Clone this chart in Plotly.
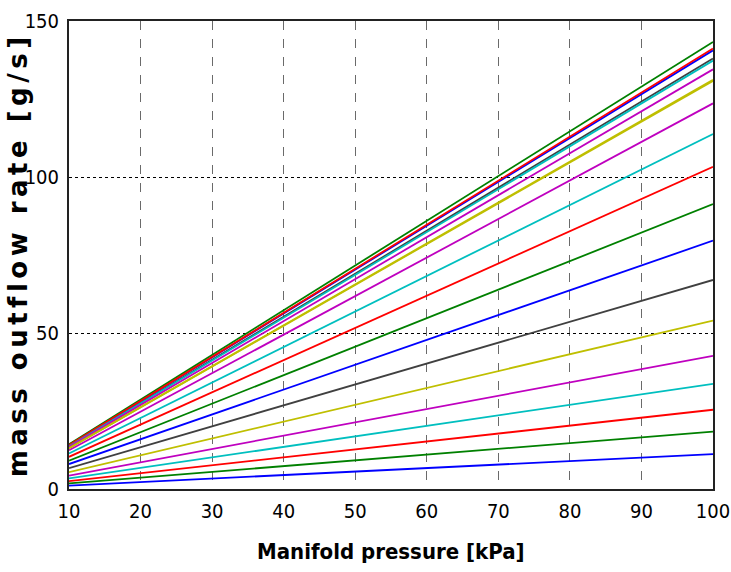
import plotly.graph_objects as go

# Manifold pressure endpoints [kPa]
pressure = [10, 100]

# mass outflow rate [g/s] read at 10 kPa and at 100 kPa for each curve
flow_at_10 = [1.1, 1.8, 2.5, 3.4, 4.3, 5.4, 6.7, 8.0, 9.1, 10.3,
              11.4, 12.4, 13.1, 13.8, 14.1, 14.3, 14.1, 13.7, 13.5, 13.1]
flow_at_100 = [11.2, 18.4, 25.4, 33.7, 42.7, 54.0, 67.0, 79.6, 91.3, 103.3,
               113.8, 123.6, 130.8, 138.0, 140.6, 143.3, 141.2, 137.3, 134.5, 131.2]

# MATLAB classic colour order: b g r c m y k
color_order = ["#0000FF", "#008000", "#FF0000", "#00BFBF", "#BF00BF", "#BFBF00", "#404040"]

x_ticks = [10, 20, 30, 40, 50, 60, 70, 80, 90, 100]
y_ticks = [0, 50, 100, 150]

fig = go.Figure()
for i, (a, b) in enumerate(zip(flow_at_10, flow_at_100)):
    fig.add_trace(go.Scatter(
        x=pressure, y=[a, b], mode="lines",
        line=dict(color=color_order[i % len(color_order)], width=1.8),
        showlegend=False, hoverinfo="skip"))

narrow = "Liberation Sans Narrow, DejaVu Sans Condensed, Arial Narrow, sans-serif"
tick_font = dict(family=narrow, size=20, color="#000000")

fig.update_layout(
    width=731, height=572,
    margin=dict(l=69, r=18, t=21, b=83),
    paper_bgcolor="white", plot_bgcolor="white",
    xaxis=dict(range=[10, 100], tickvals=x_ticks, showgrid=True,
               gridcolor="#6a6a6a", griddash="dash", gridwidth=1,
               showline=True, linecolor="#222222", linewidth=2, mirror=True,
               zeroline=False, ticks="", tickfont=tick_font,
               ticklabeloverflow="allow", automargin=False, ticklabelstandoff=3),
    yaxis=dict(range=[0, 150], tickvals=y_ticks, showgrid=True,
               gridcolor="#000000", griddash="dot", gridwidth=1.3,
               showline=True, linecolor="#222222", linewidth=2, mirror=True,
               zeroline=False, ticks="", tickfont=tick_font,
               ticklabeloverflow="allow", automargin=False, ticklabelstandoff=4),
    annotations=[
        dict(text="Manifold pressure [kPa]", xref="paper", yref="paper",
             x=0.5, y=-0.134, xanchor="center", yanchor="middle", showarrow=False,
             font=dict(family=narrow, size=22, color="#000000", weight="bold")),
        dict(text="mass outflow rate [g/s]", xref="paper", yref="paper",
             x=-0.079, y=0.5, xanchor="center", yanchor="middle", showarrow=False,
             textangle=-90,
             font=dict(family="DejaVu Sans, Verdana, sans-serif", size=26,
                       color="#000000", weight="bold")),
    ],
)

post = """
(function(){
  function fix(){
    var els = document.querySelectorAll('.annotation-text');
    els.forEach(function(e){
      if (e.textContent.indexOf('mass') === 0) { e.style.letterSpacing = '4.5px'; }
    });
  }
  fix(); setTimeout(fix, 0);
})();
"""

fig.write_html("out.html", post_script=post)
